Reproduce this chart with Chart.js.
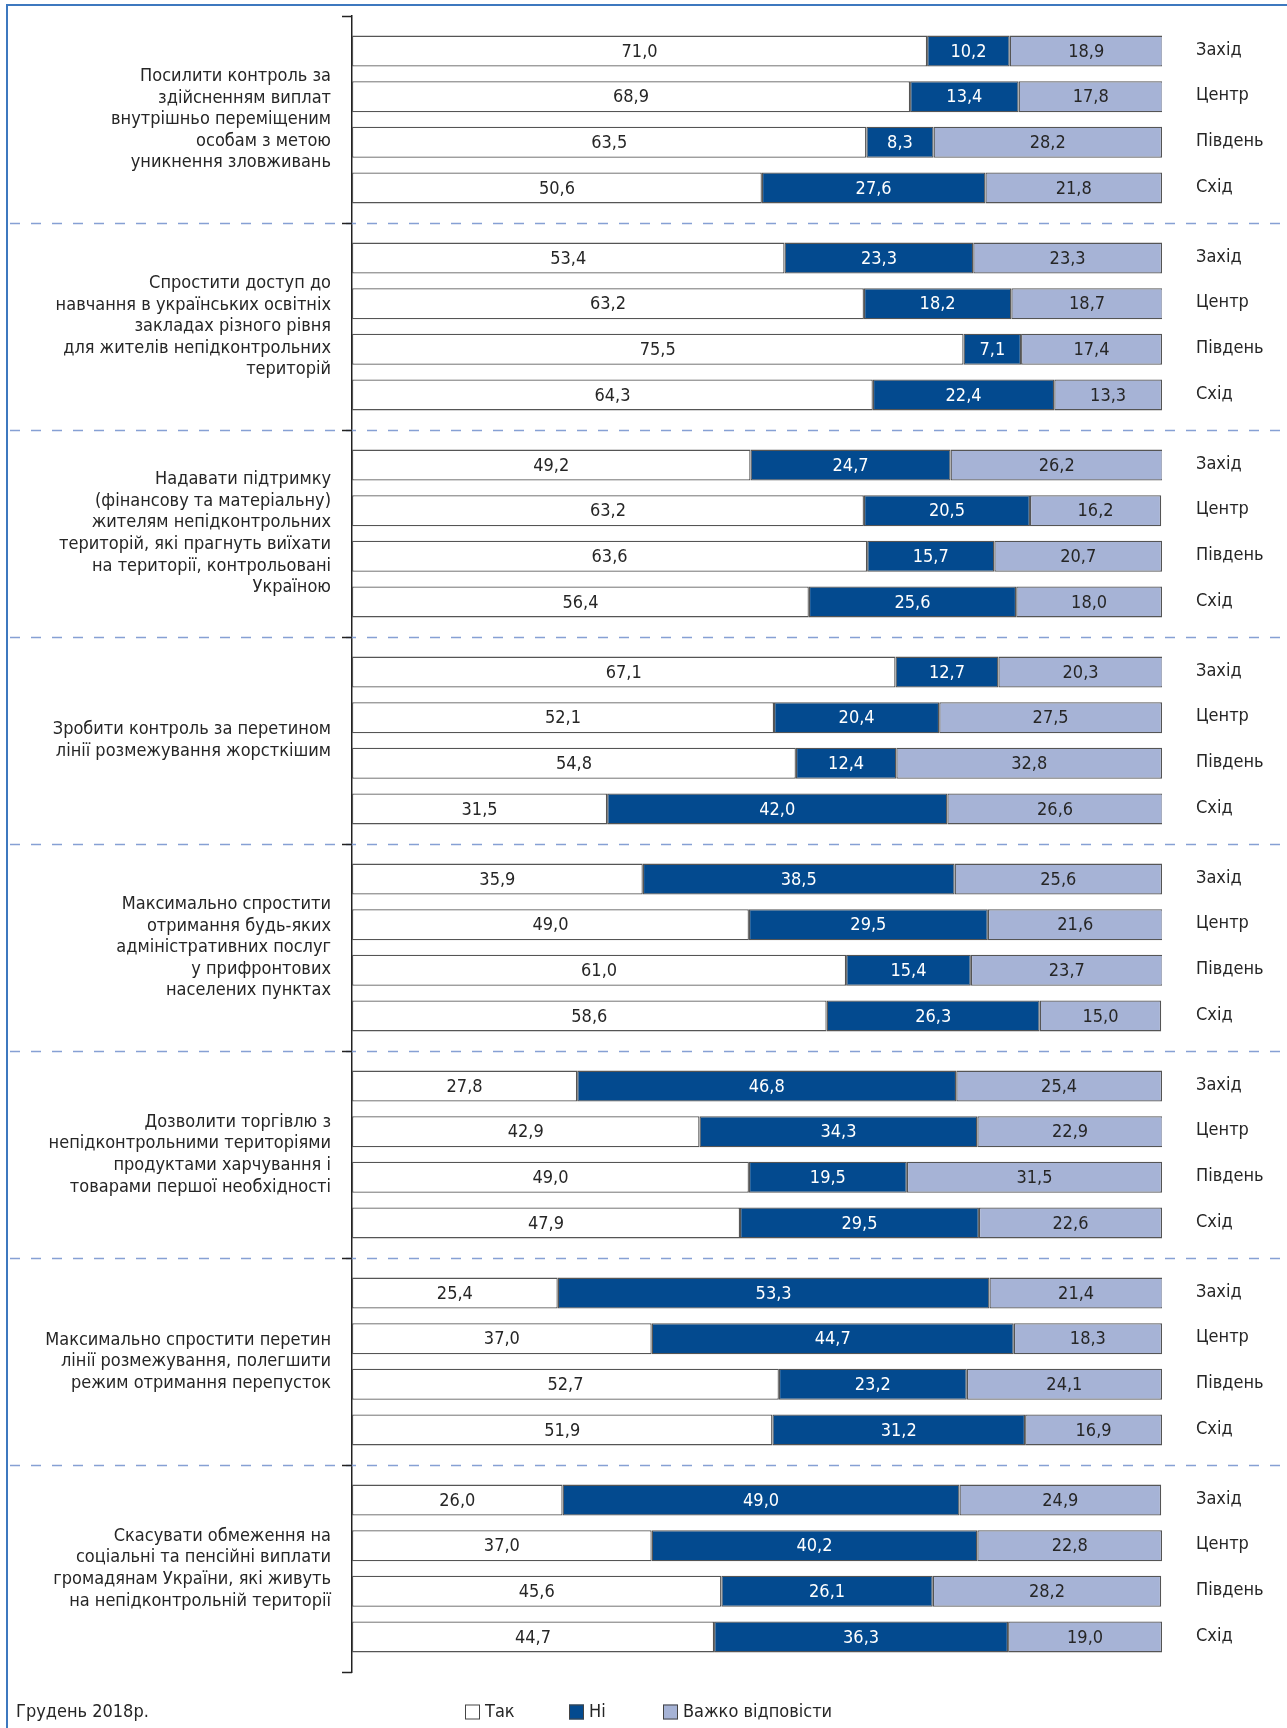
<!DOCTYPE html>
<html>
<head>
<meta charset="utf-8">
<script src="https://cdn.jsdelivr.net/npm/chart.js@4.4.1/dist/chart.umd.min.js"></script>
<style>
  html, body { margin: 0; padding: 0; background: #ffffff; }
  #wrap { position: relative; width: 1287px; height: 1728px; }
  canvas { display: block; }
</style>
</head>
<body>
<div id="wrap"><canvas id="c" width="1287" height="1728"></canvas></div>
<script>
// ---------- DATA ----------
const questions = [
  ["Посилити контроль за", "здійсненням виплат", "внутрішньо переміщеним", "особам з метою", "уникнення зловживань"],
  ["Спростити доступ до", "навчання в українських освітніх", "закладах різного рівня", "для жителів непідконтрольних", "територій"],
  ["Надавати підтримку", "(фінансову та матеріальну)", "жителям непідконтрольних", "територій, які прагнуть виїхати", "на території, контрольовані", "Україною"],
  ["Зробити контроль за перетином", "лінії розмежування жорсткішим"],
  ["Максимально спростити", "отримання будь-яких", "адміністративних послуг", "у прифронтових", "населених пунктах"],
  ["Дозволити торгівлю з", "непідконтрольними територіями", "продуктами харчування і", "товарами першої необхідності"],
  ["Максимально спростити перетин", "лінії розмежування, полегшити", "режим отримання перепусток"],
  ["Скасувати обмеження на", "соціальні та пенсійні виплати", "громадянам України, які живуть", "на непідконтрольній території"]
];
const regions = ["Захід", "Центр", "Південь", "Схід"];
const responses = ["Так", "Ні", "Важко відповісти"];

// values per question: [Захід, Центр, Південь, Схід]
const takValues = [
  [71.0, 68.9, 63.5, 50.6],
  [53.4, 63.2, 75.5, 64.3],
  [49.2, 63.2, 63.6, 56.4],
  [67.1, 52.1, 54.8, 31.5],
  [35.9, 49.0, 61.0, 58.6],
  [27.8, 42.9, 49.0, 47.9],
  [25.4, 37.0, 52.7, 51.9],
  [26.0, 37.0, 45.6, 44.7]
];
const niValues = [
  [10.2, 13.4, 8.3, 27.6],
  [23.3, 18.2, 7.1, 22.4],
  [24.7, 20.5, 15.7, 25.6],
  [12.7, 20.4, 12.4, 42.0],
  [38.5, 29.5, 15.4, 26.3],
  [46.8, 34.3, 19.5, 29.5],
  [53.3, 44.7, 23.2, 31.2],
  [49.0, 40.2, 26.1, 36.3]
];
const vazhkoValues = [
  [18.9, 17.8, 28.2, 21.8],
  [23.3, 18.7, 17.4, 13.3],
  [26.2, 16.2, 20.7, 18.0],
  [20.3, 27.5, 32.8, 26.6],
  [25.6, 21.6, 23.7, 15.0],
  [25.4, 22.9, 31.5, 22.6],
  [21.4, 18.3, 24.1, 16.9],
  [24.9, 22.8, 28.2, 19.0]
];
const footnote = "Грудень 2018р.";

// ---------- STYLE ----------
const FONT = "'Liberation Sans Narrow', 'Arial Narrow', 'DejaVu Sans Condensed', sans-serif";
const TEXT = "#262626";
const fills = ["#ffffff", "#034a8f", "#a6b3d6"];
const valueColors = [TEXT, "#ffffff", TEXT];

const responseSets = [takValues, niValues, vazhkoValues];
const datasets = [];
regions.forEach((reg, r) => {
  responseSets.forEach((set, k) => {
    datasets.push({
      label: responses[k],
      region: reg,
      resp: k,
      stack: reg,
      data: set.map(row => row[r]),
      backgroundColor: fills[k],
      borderColor: "#555555",
      borderWidth: 1.3,
      borderSkipped: false,
      categoryPercentage: 0.881,
      barPercentage: 0.68
    });
  });
});

const fmt = v => v.toFixed(1).replace('.', ',');

const decor = {
  id: 'decor',
  beforeDraw(chart) {
    const ctx = chart.ctx;
    ctx.save();
    ctx.fillStyle = '#ffffff';
    ctx.fillRect(0, 0, chart.width, chart.height);
    ctx.restore();
  },
  afterDraw(chart) {
    const ctx = chart.ctx;
    const ys = chart.scales.y;
    ctx.save();
    // dashed separators between groups
    ctx.strokeStyle = '#86a0d4';
    ctx.lineWidth = 1.3;
    ctx.setLineDash([10, 11]);
    for (let i = 1; i < questions.length; i++) {
      const y = Math.round((ys.getPixelForValue(i - 1) + ys.getPixelForValue(i)) / 2) + 0.5;
      ctx.beginPath();
      ctx.moveTo(10, y);
      ctx.lineTo(chart.width, y);
      ctx.stroke();
    }
    ctx.setLineDash([]);
    // tick marks at group boundaries
    ctx.strokeStyle = '#222222';
    ctx.lineWidth = 1.5;
    for (let i = 0; i <= questions.length; i++) {
      let y;
      if (i === 0) y = chart.chartArea.top;
      else if (i === questions.length) y = chart.chartArea.bottom;
      else y = (ys.getPixelForValue(i - 1) + ys.getPixelForValue(i)) / 2;
      y = Math.round(y) + 0.5;
      ctx.beginPath();
      ctx.moveTo(chart.chartArea.left - 10, y);
      ctx.lineTo(chart.chartArea.left, y);
      ctx.stroke();
    }

    // value labels inside bars and region names
    ctx.font = "18px " + FONT;
    ctx.textBaseline = 'middle';
    chart.data.datasets.forEach((ds, di) => {
      const meta = chart.getDatasetMeta(di);
      meta.data.forEach((el, i) => {
        const v = ds.data[i];
        ctx.fillStyle = valueColors[ds.resp];
        ctx.textAlign = 'center';
        ctx.fillText(fmt(v), (el.x + el.base) / 2, el.y + 1);
        if (ds.resp === 0) {
          ctx.fillStyle = TEXT;
          ctx.textAlign = 'left';
          ctx.fillText(ds.region, 1196, el.y - 1);
        }
      });
    });

    // frame
    ctx.strokeStyle = '#3d78bf';
    ctx.lineWidth = 2;
    ctx.beginPath();
    ctx.moveTo(7, chart.height);
    ctx.lineTo(7, 5);
    ctx.lineTo(chart.width, 5);
    ctx.stroke();

    // footnote and legend
    const ly = 1712;
    ctx.fillStyle = TEXT;
    ctx.textAlign = 'left';
    ctx.fillText(footnote, 16, ly);
    const legendX = [465, 569, 663];
    responses.forEach((name, k) => {
      const x = legendX[k];
      ctx.fillStyle = fills[k];
      ctx.fillRect(x, ly - 7.5, 15, 15);
      ctx.strokeStyle = '#444444';
      ctx.lineWidth = 1;
      ctx.strokeRect(x + 0.5, ly - 7, 14, 14);
      ctx.fillStyle = TEXT;
      ctx.fillText(name, x + 20, ly);
    });
    ctx.restore();
  }
};

new Chart(document.getElementById('c'), {
  type: 'bar',
  data: { labels: questions, datasets: datasets },
  options: {
    indexAxis: 'y',
    responsive: false,
    animation: false,
    events: [],
    layout: { padding: { left: 7, right: 125, top: 16, bottom: 56 } },
    plugins: { legend: { display: false }, tooltip: { enabled: false } },
    scales: {
      x: { display: false, stacked: true, min: 0, max: 100 },
      y: {
        stacked: true,
        afterFit(scale) {
          scale.width = 345;
          scale.paddingTop = 0;
          scale.paddingBottom = 0;
        },
        grid: { display: false, offset: true },
        border: { display: true, color: '#222222', width: 1.5 },
        ticks: {
          color: TEXT,
          padding: 13,
          crossAlign: 'near',
          font: { family: FONT, size: 18, lineHeight: 1.2 }
        }
      }
    }
  },
  plugins: [decor]
});
</script>
</body>
</html>
